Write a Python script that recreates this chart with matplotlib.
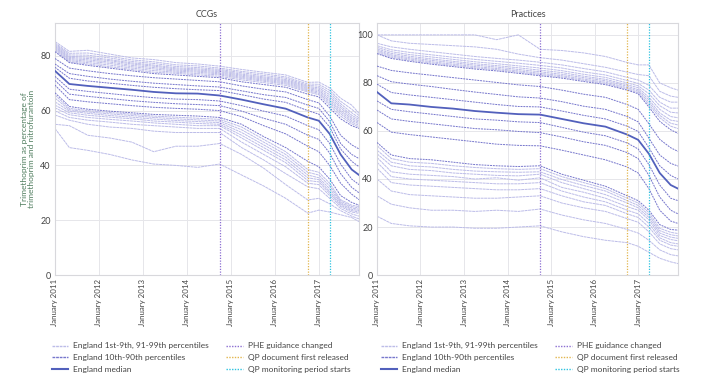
import pandas as pd
import matplotlib
matplotlib.use('Agg')
import matplotlib.pyplot as plt
from matplotlib.lines import Line2D

plt.rcParams['font.family'] = ['Lato', 'DejaVu Sans']

# sample months (values at these dates)
months = ['2011-01', '2011-05', '2011-10', '2012-04', '2012-10', '2013-04',
          '2013-10', '2014-04', '2014-10', '2015-04', '2015-10', '2016-04',
          '2016-10', '2017-01', '2017-04', '2017-07', '2017-10', '2017-12']

# CCGs: 1st-9th percentiles
ccg_low = [
    [53.5, 46.5, 45.5, 44, 42, 40.5, 40, 39.3, 40.5, 36.5, 32.5, 28, 22.6, 23.7, 23, 22, 21, 19.5],
    [55, 54.5, 51, 50, 48.5, 45, 47, 47, 48, 44, 39, 33, 27.4, 28, 26, 23.5, 21.5, 20.5],
    [58.4, 56.5, 55, 54, 53.5, 52.5, 52, 52, 52, 46.5, 42, 37, 32.2, 31.5, 28, 24.3, 22.3, 21.5],
    [59.9, 57.5, 56.5, 55.8, 55, 54.5, 54, 53.5, 53.5, 48.5, 44, 39.5, 33.5, 33, 29, 25, 23, 22.5],
    [61, 58.5, 57.5, 56.8, 56.2, 55.5, 55, 54.5, 54.5, 50, 45.5, 41, 34.5, 34, 29.8, 25.5, 23.5, 23],
    [62, 59.2, 58.3, 57.6, 57, 56.2, 55.8, 55.3, 55, 51, 46.5, 42, 35.5, 34.8, 30.5, 26, 24, 23.5],
    [63.2, 59.8, 59, 58.2, 57.6, 56.9, 56.4, 56, 55.6, 52, 47.5, 43, 36.5, 35.5, 31.5, 26.5, 24.5, 24],
    [64.6, 60.3, 59.5, 58.8, 58.2, 57.5, 57, 56.6, 56.2, 53, 48.5, 44, 37.5, 36.5, 32.5, 27, 25, 24.5],
    [65.7, 60.8, 60, 59.3, 58.7, 58, 57.6, 57.2, 56.8, 54, 49.5, 45, 38.5, 37.5, 33.5, 27.5, 25.5, 25],
]
# CCGs: 10th-90th percentiles (50th = median)
ccg_deciles = [
    [66.5, 61.5, 60.5, 59.8, 59.2, 58.6, 58.3, 58, 57.5, 55, 50.5, 46.5, 41.5, 39.5, 35, 29, 26.5, 25.5],
    [69.3, 64, 63.2, 62.5, 61.8, 61.2, 60.8, 60.5, 60, 57.8, 54.5, 51.5, 47, 45, 40, 33.5, 29.5, 27.5],
    [71, 66, 65.2, 64.4, 63.6, 63, 62.5, 62.2, 61.8, 59.8, 57.2, 55, 51, 49.5, 44.5, 37, 32, 30],
    [72.5, 67.8, 67, 66.2, 65.4, 64.7, 64.2, 64, 63.5, 61.8, 59.8, 58, 54.5, 53, 48, 40.5, 35, 33],
    [74.5, 69.7, 69, 68.3, 67.6, 66.8, 66.3, 66.2, 65.5, 64, 62.3, 60.7, 57.5, 56.3, 51.5, 44, 38.5, 36.5],
    [75.8, 71.8, 70.8, 70, 69.2, 68.5, 68, 67.6, 67.3, 65.8, 64.2, 63, 60, 58.7, 54, 46, 41.5, 39.5],
    [77, 73.5, 72.5, 71.5, 70.7, 70, 69.5, 69, 68.6, 67.2, 65.8, 64.8, 62, 60.8, 56, 48, 44, 42.5],
    [79, 75.5, 74.5, 73.5, 72.7, 72, 71.5, 71, 70.5, 69, 67.8, 66.8, 64, 62.8, 58, 51, 47.5, 46],
    [81.5, 77.5, 76.5, 75.5, 74.5, 73.5, 73, 72.5, 72, 70.5, 69.5, 68.5, 66, 65, 61, 57, 54.5, 53.5],
]
# CCGs: 91st-99th percentiles
ccg_high = [
    [82, 77.8, 77, 76, 75, 74, 73.6, 73, 72.5, 71.2, 70.2, 69.2, 66.8, 65.8, 62, 58, 55.2, 54],
    [82.4, 78.2, 77.5, 76.6, 75.5, 74.6, 74, 73.5, 73, 71.7, 70.7, 69.7, 67.2, 66.3, 62.8, 58.8, 55.8, 54.6],
    [82.8, 78.6, 78, 77.2, 76, 75.2, 74.4, 74, 73.4, 72.1, 71.1, 70.1, 67.6, 66.8, 63.5, 59.5, 56.4, 55.2],
    [83.2, 79, 78.5, 77.7, 76.5, 75.7, 74.8, 74.4, 73.8, 72.5, 71.5, 70.5, 68, 67.3, 64.2, 60.2, 57, 55.7],
    [83.5, 79.4, 79, 78.2, 77, 76.2, 75.2, 74.8, 74.2, 72.9, 71.9, 70.9, 68.4, 67.8, 65, 61, 57.6, 56.2],
    [83.9, 79.8, 79.5, 78.6, 77.4, 76.6, 75.6, 75.2, 74.6, 73.3, 72.3, 71.3, 68.8, 68.3, 65.8, 61.7, 58.3, 56.8],
    [84.3, 80.3, 80.2, 79.2, 77.9, 77.2, 76.1, 75.7, 75, 73.8, 72.8, 71.8, 69.2, 68.9, 66.6, 62.5, 59.2, 57.4],
    [84.7, 80.9, 81, 79.8, 78.5, 77.8, 76.7, 76.3, 75.5, 74.3, 73.4, 72.3, 69.7, 69.6, 67.4, 63.4, 60.5, 58.2],
    [85.2, 81.6, 82, 80.6, 79.2, 78.6, 77.5, 77, 76.2, 75, 74, 73, 70.3, 70.4, 68.3, 64.5, 62, 59],
]

# Practices: 1st-9th percentiles
prac_low = [
    [24.5, 21.5, 20.5, 20, 20, 19.5, 19.5, 20, 20.5, 18, 16, 14.5, 13.5, 12, 9.5, 7, 5.5, 4.8],
    [33, 29.5, 28, 27, 27, 26.5, 27, 26.5, 27.5, 25, 23, 21.5, 19, 17.5, 14.5, 10.5, 8.5, 8],
    [40, 35, 33.5, 33, 32.5, 32, 32, 32.5, 33, 30, 28, 26.5, 23.5, 22, 18, 13, 11, 10.5],
    [44.5, 38.5, 37.5, 37, 36.5, 36, 35.5, 35.5, 36, 33, 30.5, 29, 25.5, 24, 20, 14.5, 12.5, 12],
    [47, 41, 40, 39.5, 39, 38.5, 38, 38, 38.5, 35, 32.5, 30.5, 27, 25.5, 21.5, 15.5, 13.5, 13],
    [49, 43, 42, 41.5, 41, 40, 40.5, 39.5, 40.5, 36.5, 34.5, 32, 28.5, 27, 23, 16.5, 14.8, 14.3],
    [50.5, 45.5, 44, 43.5, 42.5, 42, 41.5, 41.3, 42, 38.5, 36, 33.5, 30, 28, 24, 17.5, 15.8, 15.3],
    [52, 47, 45.5, 45, 44, 43.3, 43, 42.8, 43, 39.8, 37.3, 35, 31, 29, 25, 18.5, 16.8, 16.3],
    [53.9, 48.5, 47, 46.5, 45.5, 44.8, 44.3, 44, 44.3, 41, 38.5, 36, 32, 30, 26, 19.5, 17.8, 17.3],
]
# Practices: 10th-90th percentiles (50th = median)
prac_deciles = [
    [55.2, 50, 48.5, 48, 47, 46, 45.5, 45.2, 45.5, 42, 39.5, 37, 33, 31, 27, 21, 19, 18.7],
    [63.5, 59.5, 58.5, 57.5, 56.5, 55.5, 54.5, 54, 53.8, 52, 50, 48, 45, 42.5, 36, 27, 22.5, 21.5],
    [68.7, 65, 64, 63, 62, 61, 60.5, 59.8, 59.3, 57.5, 55.5, 54, 51, 48.5, 41.5, 32.5, 27, 25.5],
    [72.5, 69, 68, 67, 66, 65, 64.5, 63.8, 63.5, 61.5, 59.5, 58, 55, 52.5, 46, 37.5, 32, 31],
    [76.2, 71.5, 71, 70, 69.3, 68.3, 67.6, 67, 66.8, 65, 63.2, 61.8, 58.5, 56.3, 50.5, 42.5, 37.5, 36],
    [79.5, 76, 75, 74, 73, 72, 71, 70.2, 70, 68.3, 66.5, 65, 62, 59.8, 53, 45.5, 41.5, 40],
    [83, 80.5, 79.5, 78.5, 77.3, 76.2, 75.2, 74.2, 73.7, 72.2, 70.3, 69, 66, 63.8, 57, 50, 46.5, 45.4],
    [87, 85.2, 84.2, 83.2, 82.2, 81.2, 80.2, 79.2, 78.5, 77, 75.3, 74, 71, 69, 63, 56.5, 53, 51.5],
    [92.2, 90.2, 89, 87.8, 86.8, 85.8, 85, 84, 83, 82, 80.6, 79.3, 77, 75.5, 70, 64, 60.5, 59],
]
# Practices: 91st-99th percentiles
prac_high = [
    [92.6, 90.7, 89.5, 88.3, 87.3, 86.3, 85.5, 84.5, 83.5, 82.5, 81.1, 79.8, 77.5, 76, 71, 65.5, 62, 61],
    [93.1, 91.2, 90, 88.8, 87.8, 86.8, 86, 85, 84, 83, 81.6, 80.3, 78, 76.6, 72, 66.5, 63.2, 62.5],
    [93.6, 91.7, 90.5, 89.4, 88.4, 87.4, 86.6, 85.6, 84.6, 83.6, 82.2, 80.9, 78.6, 77.2, 73, 67.5, 64.5, 64],
    [94.2, 92.3, 91.1, 90, 89, 88, 87.2, 86.3, 85.3, 84.3, 82.8, 81.5, 79.2, 78, 74, 69, 66, 65.5],
    [94.8, 93, 91.8, 90.8, 89.8, 88.8, 88, 87.1, 86.2, 85.1, 83.6, 82.3, 80, 78.8, 75.5, 70.5, 67.8, 67.5],
    [95.5, 93.8, 92.7, 91.7, 90.7, 89.8, 89, 88.2, 87.3, 86.2, 84.6, 83.3, 81, 79.8, 77, 72, 69.5, 69.5],
    [96.5, 95, 94, 93, 92, 91, 90.2, 89.5, 88.6, 87.5, 86, 84.6, 82.3, 81.2, 79, 74, 72, 72],
    [100, 97.5, 96.5, 96, 95.5, 95, 94, 92, 90.5, 89.5, 88, 86.5, 84.5, 83.5, 83, 76.5, 74.5, 74],
    [100, 100, 100, 100, 100, 100, 98, 100, 94, 93.5, 92.5, 91, 88.5, 87.5, 87.5, 80, 78, 77],
]

event_dates = ['2014-10-01', '2016-10-01', '2017-04-01']
event_labels = ['PHE guidance changed', 'QP document first released', 'QP monitoring period starts']
event_colors = ['#8c6fd2', '#e2b64e', '#2ec3e0']

year_ticks = ['2011', '2012', '2013', '2014', '2015', '2016', '2017']

LIGHT = '#bcbce8'
DEC = '#7676cc'
MED = '#5260bc'
GRID = '#e6e6ea'

dates = pd.to_datetime(months)


def draw_panel(ax, low, deciles, high, title, ymax, yticks):
    for s in low + high:
        ax.plot(dates, s, color=LIGHT, lw=0.7, ls=(0, (3, 0.6)), zorder=2)
    for i, s in enumerate(deciles):
        if i == 4:
            ax.plot(dates, s, color=MED, lw=1.3, zorder=4)
        else:
            ax.plot(dates, s, color=DEC, lw=0.7, ls=(0, (2, 0.9)), zorder=3)
    for d, c in zip(event_dates, event_colors):
        ax.axvline(pd.Timestamp(d), color=c, lw=0.9, ls=(0, (1, 1.2)), zorder=5)

    ax.set_xlim(pd.Timestamp('2011-01-01'), pd.Timestamp('2017-12-01'))
    ax.set_ylim(0, ymax)
    ax.set_yticks(yticks)
    ax.set_xticks(pd.to_datetime([y + '-01-01' for y in year_ticks]))
    ax.set_xticklabels(['January ' + y for y in year_ticks], rotation=90, fontsize=5.7, color='#444444')
    ax.tick_params(axis='y', labelsize=6.5, colors='#444444', length=0, pad=3)
    ax.tick_params(axis='x', length=0, pad=3)
    ax.grid(True, color=GRID, lw=0.7, zorder=0)
    for sp in ax.spines.values():
        sp.set_color('#d8d8dc')
        sp.set_linewidth(0.8)
    ax.set_title(title, fontsize=6.5, color='#444444', pad=4)


fig = plt.figure(figsize=(7.04, 3.81), dpi=100)
ax1 = fig.add_axes([0.078, 0.278, 0.432, 0.662])
ax2 = fig.add_axes([0.5355, 0.278, 0.4275, 0.662])

draw_panel(ax1, ccg_low, ccg_deciles, ccg_high, 'CCGs', 92, [0, 20, 40, 60, 80])
draw_panel(ax2, prac_low, prac_deciles, prac_high, 'Practices', 105, [0, 20, 40, 60, 80, 100])

ax1.set_ylabel('Trimethoprim as percentage of\ntrimethoprim and nitrofurantoin',
               fontsize=6, color='#4f7d5e', labelpad=4, linespacing=1.0)

handles = [
    Line2D([], [], color=LIGHT, lw=1.0, ls=(0, (2, 0.6))),
    Line2D([], [], color=DEC, lw=1.0, ls=(0, (2, 0.6))),
    Line2D([], [], color=MED, lw=1.5),
]
for c in event_colors:
    handles.append(Line2D([], [], color=c, lw=1.0, ls=(0, (1, 1))))
labels = ['England 1st-9th, 91-99th percentiles', 'England 10th-90th percentiles',
          'England median'] + event_labels

for cx in [201 / 704, 530 / 704]:
    fig.legend(handles, labels, loc='upper center', bbox_to_anchor=(cx, 0.11), ncol=2,
               frameon=False, fontsize=6, labelcolor='#444444', handlelength=2.0,
               handletextpad=0.6, columnspacing=2.0, labelspacing=0.55, borderaxespad=0)

fig.savefig('out.png', dpi=100)
